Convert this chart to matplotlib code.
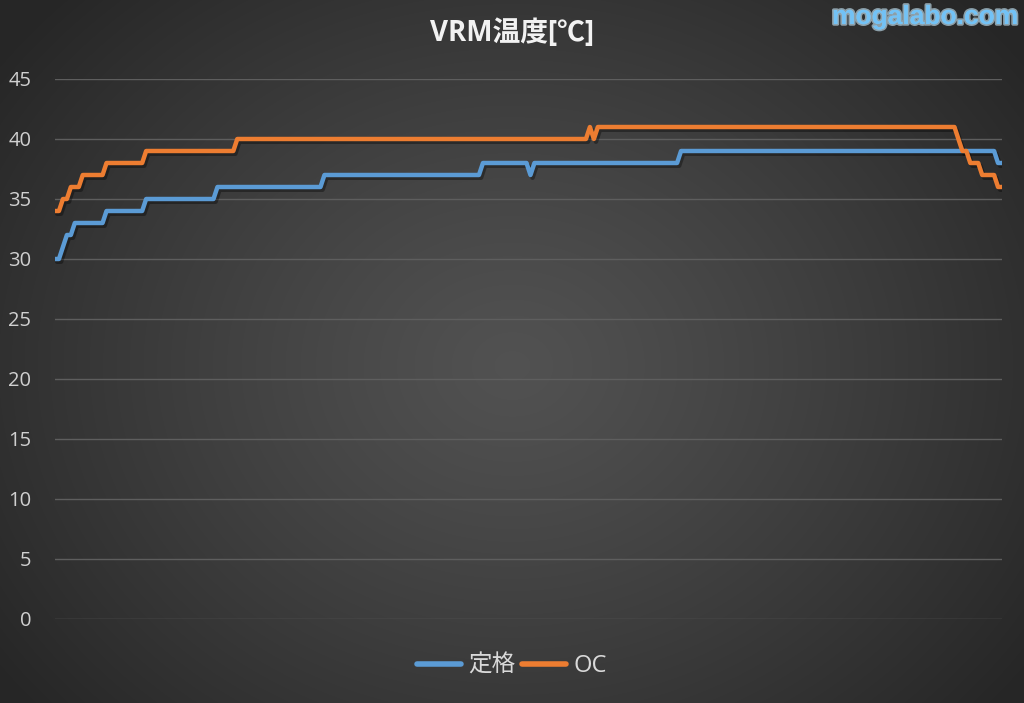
import numpy as np
import matplotlib
matplotlib.use("Agg")
import matplotlib.pyplot as plt
import matplotlib.patheffects as pe

plt.rcParams['font.family'] = ['Open Sans', 'Noto Sans CJK JP', 'DejaVu Sans']

# ---- data (sample index where a new value starts, and that value) ----
n_samples = 240
blue_start_idx = [0, 2, 3, 5, 13, 23, 41, 68, 108, 120, 121, 158, 238]
blue_vals      = [30, 31, 32, 33, 34, 35, 36, 37, 38, 37, 38, 39, 38]
orange_start_idx = [0, 2, 4, 7, 13, 23, 46, 135, 136, 137, 228, 229, 231, 234, 238]
orange_vals      = [34, 35, 36, 37, 38, 39, 40, 41, 40, 41, 40, 39, 38, 37, 36]
series_names = ['定格', 'OC']
yticks = [0, 5, 10, 15, 20, 25, 30, 35, 40, 45]
title = 'VRM温度[℃]'
watermark = 'mogalabo.com'


def expand(starts, vals, n):
    out = np.empty(n)
    bounds = list(starts) + [n]
    for i, v in enumerate(vals):
        out[bounds[i]:bounds[i + 1]] = v
    return out


blue = expand(blue_start_idx, blue_vals, n_samples)
orange = expand(orange_start_idx, orange_vals, n_samples)
x = np.arange(n_samples)

W, H = 1024, 703
fig = plt.figure(figsize=(W / 100, H / 100), dpi=100)

# radial gradient background
bg = fig.add_axes([0, 0, 1, 1])
yy, xx = np.mgrid[0:H, 0:W]
r = np.sqrt(((xx - W * 0.5) / (W * 0.62)) ** 2 + ((yy - H * 0.52) / (H * 0.75)) ** 2)
r = np.clip(r, 0, 1)
c_in, c_out = 0.32, 0.15
g = c_in + (c_out - c_in) * r ** 1.2
bg.imshow(np.dstack([g, g, g]), extent=[0, 1, 0, 1], aspect='auto', zorder=0)
bg.set_axis_off()

ax = fig.add_axes([55 / W, 1 - 619 / H, (1002 - 55) / W, (619 - 79) / H])
ax.set_facecolor('none')
ax.set_xlim(0, n_samples - 1)
ax.set_ylim(0, 45)
ax.set_yticks(yticks)
ax.set_xticks([])
ax.grid(axis='y', color='#5e5e5e', linewidth=1.0)
ax.set_axisbelow(True)
for s in ax.spines.values():
    s.set_visible(False)
ax.tick_params(axis='y', length=0, pad=17, labelsize=14.5, labelcolor='#d0d0d0')

shadow = [pe.SimpleLineShadow(offset=(1.5, -2), shadow_color='black', alpha=0.35), pe.Normal()]
l1, = ax.plot(x, blue, color='#5B9BD5', lw=3.2, label=series_names[0],
              solid_joinstyle='round', solid_capstyle='round', path_effects=shadow, zorder=3)
l2, = ax.plot(x, orange, color='#ED7D31', lw=3.2, label=series_names[1],
              solid_joinstyle='round', solid_capstyle='round', path_effects=shadow, zorder=4)

fig.text(0.5, 1 - 33 / H, title, ha='center', va='center', fontsize=20,
         fontweight='bold', color='#f2f2f2')

fig.text(1018 / W, 1 - 17 / H, watermark, ha='right', va='center', fontsize=19,
         fontweight='bold', color='#72c2f6', family=['Liberation Sans', 'DejaVu Sans'],
         path_effects=[pe.withStroke(linewidth=2.5, foreground='#cdeeff', alpha=0.6)])

leg = fig.legend(handles=[l1, l2], loc='center', bbox_to_anchor=(0.5, 1 - 666 / H),
                 ncol=2, frameon=False, fontsize=17, handlelength=1.85,
                 handletextpad=0.3, columnspacing=0.3, labelcolor='#d9d9d9')
for h in leg.legend_handles:
    h.set_linewidth(4)
    h.set_path_effects([])

fig.savefig('out.png', dpi=100)
